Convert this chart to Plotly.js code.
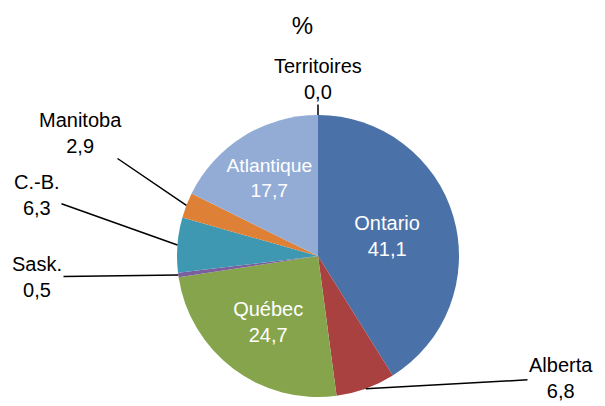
<!DOCTYPE html>
<html>
<head>
<meta charset="utf-8">
<script src="https://cdn.plot.ly/plotly-3.0.1.min.js"></script>
<style>html,body{margin:0;padding:0;background:#fff;}#chart{width:605px;height:406px;}</style>
</head>
<body>
<div id="chart"></div>
<script>
const regions = ["Ontario", "Alberta", "Québec", "Sask.", "C.-B.", "Manitoba", "Atlantique", "Territoires"];
const shares = [41.1, 6.8, 24.7, 0.5, 6.3, 2.9, 17.7, 0.0];
const sliceColors = ["#4A72A8", "#A8413F", "#86A44B", "#7B5E9E", "#3F98B2", "#DE8036", "#93ACD6", "#C0C0C0"];
const insideLabel = [true, false, true, false, false, false, true, false];

const W = 605, H = 406;
const FONT = "Liberation Sans, Arial, sans-serif";
// pie placement (pixels)
const cx = 318, cy = 256, R = 141;
// outside label centres (pixels)
const labelPos = {
  "Alberta": [561, 378],
  "Sask.": [37, 277],
  "C.-B.": [37, 195],
  "Manitoba": [80, 133],
  "Territoires": [318, 79]
};

function fmt(v) { return v.toFixed(1).replace(".", ","); }

const sliceText = regions.map((r, i) => insideLabel[i] ? r + "<br>" + fmt(shares[i]) : "");

const trace = {
  type: "pie",
  labels: regions,
  values: shares,
  sort: false,
  direction: "clockwise",
  rotation: 0,
  marker: { colors: sliceColors, line: { color: "#FFFFFF", width: 0 } },
  text: sliceText,
  textinfo: "text",
  textposition: "inside",
  textfont: { family: FONT, size: 20, color: "#FFFFFF" },
  insidetextorientation: "horizontal",
  hoverinfo: "label+value",
  showlegend: false,
  automargin: false,
  domain: { x: [(cx - R) / W, (cx + R) / W], y: [1 - (cy + R) / H, 1 - (cy - R) / H] }
};

// leader-line annotations computed from the slice angles
const total = shares.reduce((a, b) => a + b, 0);
let cum = 0;
const annotations = [];
regions.forEach((r, i) => {
  const mid = (cum + shares[i] / 2) / total;
  cum += shares[i];
  if (insideLabel[i]) return;
  const th = 2 * Math.PI * mid;
  const px = cx + R * Math.sin(th);
  const py = cy - R * Math.cos(th);
  const lp = labelPos[r];
  annotations.push({
    x: px / W, y: 1 - py / H, xref: "paper", yref: "paper",
    text: r + "<br>" + fmt(shares[i]),
    showarrow: true, arrowhead: 0, arrowwidth: 1.5, arrowcolor: "#000000", standoff: 0,
    ax: lp[0] - px, ay: lp[1] - py,
    align: "center",
    font: { family: FONT, size: 20, color: "#000000" }
  });
});

const layout = {
  width: W,
  height: H,
  paper_bgcolor: "#FFFFFF",
  margin: { l: 0, r: 0, t: 0, b: 0 },
  title: { text: "%", x: 0.5, xanchor: "center", y: 1 - 26 / H, yanchor: "middle", font: { family: FONT, size: 24, color: "#000000" } },
  font: { family: FONT, size: 20, color: "#000000" },
  annotations: annotations
};

Plotly.newPlot("chart", [trace], layout, { displayModeBar: false, staticPlot: true });
</script>
</body>
</html>
